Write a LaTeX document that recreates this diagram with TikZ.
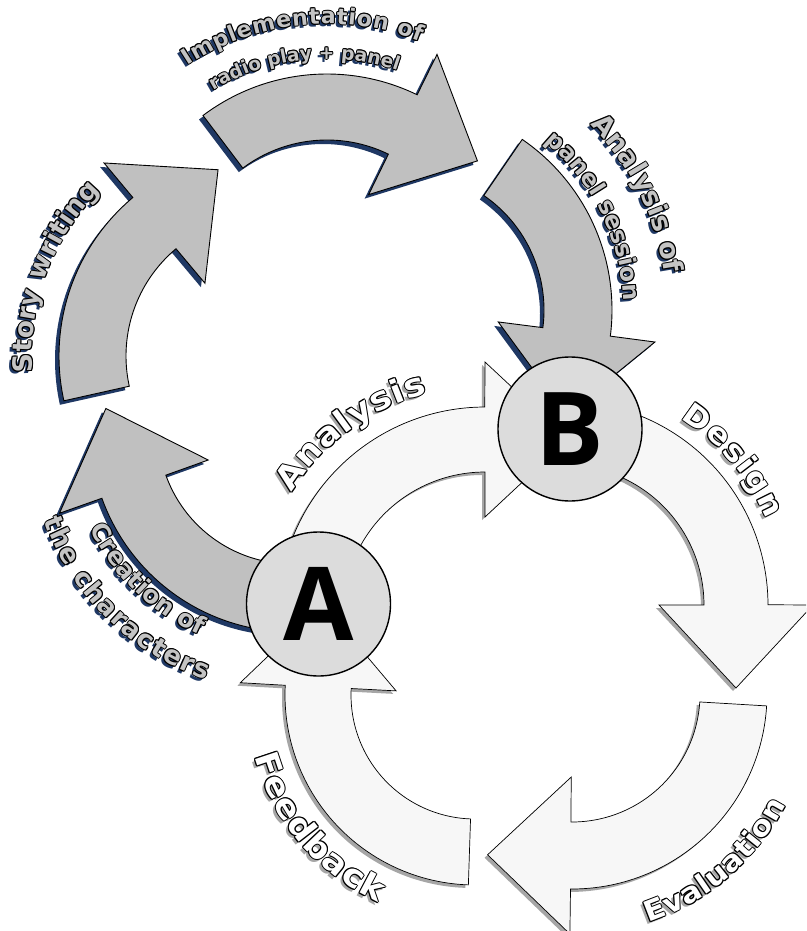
\documentclass[tikz,border=0pt]{standalone}
\usepackage{fontspec}
\usetikzlibrary{decorations.text}
\newfontfamily\wafont{DejaVu Sans}
\newfontfamily\wbfont{DejaVu Sans}[FakeStretch=1.1]
\newfontfamily\abfont{Open Sans}
\let\curfont\wafont
\definecolor{navy}{HTML}{1F3864}
\definecolor{upfill}{HTML}{C0C0C0}
\definecolor{lowfill}{HTML}{F7F7F7}
\definecolor{lowshadow}{HTML}{A6A6A6}
\definecolor{circfill}{HTML}{DCDCDC}
\definecolor{utext}{HTML}{C4C4C4}
% curved arrow: cx cy Rout Rin startangle headangle style
\newcommand\carrow[7]{%
 \path[#7] plot[domain=0:1,samples=60,variable=\u] ({#1+#3*cos(#5+(#6-#5)*\u)},{#2+#3*sin(#5+(#6-#5)*\u)})
  -- ({#1+(#3+45)*cos(#6)},{#2+(#3+45)*sin(#6)})
  -- ({#1+0.5*(#3+#4)*cos(#6)-83*sin(#6)},{#2+0.5*(#3+#4)*sin(#6)+83*cos(#6)})
  -- ({#1+(#4-45)*cos(#6)},{#2+(#4-45)*sin(#6)})
  -- plot[domain=0:1,samples=60,variable=\u] ({#1+#4*cos(#6+(#5-#6)*\u)},{#2+#4*sin(#6+(#5-#6)*\u)})
  -- cycle;}
% outlined text along arc: cx cy r a1 a2 size text fill shadow
\newcommand\wtext[9]{%
 \foreach \dx/\dy/\tc in {-3/3/#9,1/0/black,-1/0/black,0/1/black,0/-1/black,0.7/0.7/black,-0.7/0.7/black,0.7/-0.7/black,-0.7/-0.7/black,0/0/#8}{%
  \path[shift={(\dx,\dy)},decorate,decoration={text along path,text align=fit to path,text color=\tc,text={|\curfont\bfseries\fontsize{#6}{#6}\selectfont|#7}}]
   plot[domain=0:1,samples=60,variable=\u] ({#1+#3*cos(#4+(#5-#4)*\u)},{#2+#3*sin(#4+(#5-#4)*\u)});}}
\begin{document}
\begin{tikzpicture}[x=1pt,y=-1pt,
  lowarrow/.style={fill=lowfill,draw=black,line width=0.7pt,line join=miter},
  lowshad/.style={fill=lowshadow},
  uparrow/.style={fill=upfill,draw=black,line width=0.9pt,line join=miter},
  upshad/.style={fill=navy},
  circ/.style={circle,draw=black,line width=1.4pt,fill=circfill,minimum size=144pt,inner sep=0pt,font=\abfont\bfseries\fontsize{102}{102}\selectfont}]
\useasboundingbox (0,0) rectangle (806,931);
\fill[white] (0,0) rectangle (806,931);
\clip (0,0) rectangle (806,931);
% lower cycle shadows
\begin{scope}[shift={(-3,3)}]
 \carrow{485}{614}{207}{142}{190}{270}{lowshad}
 \carrow{564}{605}{204}{140}{262}{360}{lowshad}
 \carrow{572}{694}{195}{128}{3.5}{90.5}{lowshad}
 \carrow{475}{695}{190}{124}{92}{183}{lowshad}
\end{scope}
% lower cycle arrows
 \carrow{485}{614}{207}{142}{190}{270}{lowarrow}
 \carrow{564}{605}{204}{140}{262}{360}{lowarrow}
 \carrow{572}{694}{195}{128}{3.5}{90.5}{lowarrow}
 \carrow{475}{695}{190}{124}{92}{183}{lowarrow}
% upper cycle shadows
\begin{scope}[shift={(-4,4)}]
 \carrow{292}{430}{202}{134}{85}{160.3}{upshad}
 \carrow{266}{356}{207}{140}{167.5}{230}{upshad}
 \carrow{327}{280}{206}{140}{233}{296}{upshad}
 \carrow{405}{310}{207}{139}{304.5}{367.3}{upshad}
\end{scope}
% upper cycle arrows
 \carrow{292}{430}{202}{134}{85}{160.3}{uparrow}
 \carrow{266}{356}{207}{140}{167.5}{230}{uparrow}
 \carrow{327}{280}{206}{140}{233}{296}{uparrow}
 \carrow{405}{310}{207}{139}{304.5}{367.3}{uparrow}
% circles
\node[circ] (B) at (570,429) {\raisebox{-2pt}{B}};
\node[circ] (A) at (318.5,604) {\raisebox{-6pt}{A}};
% upper labels
\wtext{327}{280}{256}{237}{291.5}{22}{Implementation of}{utext}{navy}
\wtext{327}{280}{221}{239}{288.7}{18.5}{radio play + panel}{utext}{navy}
\wtext{266}{356}{234}{176}{225}{26.5}{Story writing}{utext}{navy}
\wtext{405}{310}{262}{315}{352}{27}{Analysis of}{utext}{navy}
\wtext{405}{310}{219}{309.6}{357.6}{23.5}{panel session}{utext}{navy}
\wtext{292}{430}{225}{154}{114}{24.5}{Creation of}{utext}{navy}
\wtext{292}{430}{264}{160}{109}{26}{the characters}{utext}{navy}
% lower labels
\let\curfont\wbfont
\wtext{485}{614}{228}{212}{255.5}{32}{Analysis}{white}{lowshadow}
\wtext{564}{605}{220}{302}{337}{29.5}{Design}{white}{lowshadow}
\wtext{572}{694}{241}{71.6}{27.3}{28}{Evaluation}{white}{lowshadow}
\wtext{475}{695}{229}{164.4}{115}{32}{Feedback}{white}{lowshadow}
\end{tikzpicture}
\end{document}
